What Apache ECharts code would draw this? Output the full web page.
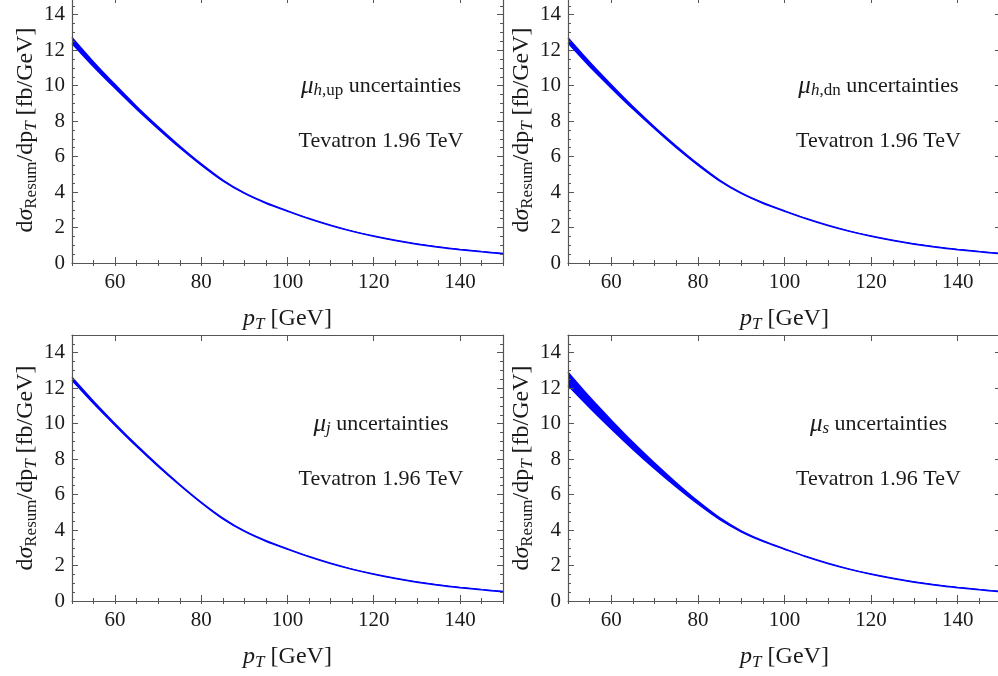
<!DOCTYPE html>
<html>
<head>
<meta charset="utf-8">
<script src="https://cdn.jsdelivr.net/npm/echarts@6/dist/echarts.min.js"></script>
<style>
  html, body { margin: 0; padding: 0; background: #ffffff; }
  #chart { width: 998px; height: 676px; }
</style>
</head>
<body>
<div id="chart"></div>
<script>
// transverse momentum grid [GeV]
const pT = [50, 55, 60, 65, 70, 75, 80, 85, 90, 95, 100, 105, 110, 115, 120, 125, 130, 135, 140, 145, 150];

// labelled ticks
const xMajorTicks = [60, 80, 100, 120, 140];

// resummed cross section bands dσ/dpT [fb/GeV], lower and upper edges
const hUpLower = [12.38, 11.07, 9.85, 8.67, 7.56, 6.50, 5.52, 4.63, 3.92, 3.37, 2.92, 2.49, 2.11, 1.78, 1.50, 1.26, 1.06, 0.89, 0.75, 0.63, 0.52];
const hUpUpper = [12.72, 11.34, 10.06, 8.83, 7.68, 6.60, 5.59, 4.68, 3.95, 3.40, 2.94, 2.51, 2.13, 1.80, 1.52, 1.28, 1.08, 0.91, 0.77, 0.65, 0.54];

const hDnLower = [12.40, 11.08, 9.86, 8.68, 7.57, 6.50, 5.52, 4.63, 3.92, 3.37, 2.92, 2.49, 2.11, 1.78, 1.50, 1.26, 1.06, 0.89, 0.75, 0.63, 0.52];
const hDnUpper = [12.70, 11.33, 10.05, 8.82, 7.67, 6.60, 5.59, 4.68, 3.95, 3.40, 2.94, 2.51, 2.13, 1.80, 1.52, 1.28, 1.08, 0.91, 0.77, 0.65, 0.54];

const jLower = [12.44, 11.13, 9.90, 8.71, 7.59, 6.53, 5.53, 4.63, 3.92, 3.37, 2.92, 2.49, 2.11, 1.78, 1.50, 1.26, 1.06, 0.89, 0.75, 0.63, 0.52];
const jUpper = [12.62, 11.27, 10.00, 8.79, 7.65, 6.57, 5.57, 4.68, 3.95, 3.40, 2.94, 2.51, 2.13, 1.80, 1.52, 1.28, 1.08, 0.91, 0.77, 0.65, 0.54];

const sLower = [12.15, 10.90, 9.70, 8.55, 7.46, 6.43, 5.47, 4.60, 3.90, 3.36, 2.92, 2.49, 2.11, 1.78, 1.50, 1.26, 1.06, 0.89, 0.75, 0.63, 0.52];
const sUpper = [12.90, 11.50, 10.20, 8.95, 7.78, 6.67, 5.63, 4.70, 3.96, 3.40, 2.94, 2.51, 2.13, 1.80, 1.52, 1.28, 1.08, 0.91, 0.77, 0.65, 0.54];

// panel texts
const scaleLabels = [
  '{mu|μ}{si|h}{sub|,up}{n| uncertainties}',
  '{mu|μ}{si|h}{sub|,dn}{n| uncertainties}',
  '{mu|μ}{si|j}{n| uncertainties}',
  '{mu|μ}{si|s}{n| uncertainties}'
];
const machineLabel = 'Tevatron 1.96 TeV';
const xTitle = '{i|p}{si|T}{n| [GeV]}';
const yTitle = '{n|d}{i|σ}{sub|Resum}{n|/dp}{si|T}{n| [fb/GeV]}';

const FONT = 'Liberation Serif';
const BLUE = '#0000ff';
const FRAME = '#555555';
const TEXT = '#1a1a1a';

const panels = [
  { lower: hUpLower, upper: hUpUpper, rect: { left: 72,  top: -3,  width: 431, height: 266 } },
  { lower: hDnLower, upper: hDnUpper, rect: { left: 568, top: -3,  width: 433, height: 266 } },
  { lower: jLower,   upper: jUpper,   rect: { left: 72,  top: 335, width: 431, height: 266 } },
  { lower: sLower,   upper: sUpper,   rect: { left: 568, top: 335, width: 433, height: 266 } }
];

function richSet(size, subSize, shift, muSize) {
  return {
    n:   { fontFamily: FONT, fontSize: size, color: TEXT },
    i:   { fontFamily: FONT, fontSize: size, color: TEXT, fontStyle: 'italic' },
    si:  { fontFamily: FONT, fontSize: subSize, color: TEXT, fontStyle: 'italic', padding: [shift, 0, 0, 0] },
    sub: { fontFamily: FONT, fontSize: subSize, color: TEXT, padding: [shift, 0, 0, 0] },
    mu:  { fontFamily: FONT, fontSize: muSize, color: TEXT, fontStyle: 'italic' }
  };
}
const titleRich = richSet(24, 17, 11, 24);
const noteRich = richSet(22, 17, 10, 25);

const grids = [], xAxes = [], yAxes = [], series = [], graphics = [];

panels.forEach((p, k) => {
  const gMain = grids.length;
  grids.push(Object.assign({ containLabel: false, outerBoundsMode: 'none' }, p.rect));
  const gMinor = grids.length;
  grids.push(Object.assign({ containLabel: false, outerBoundsMode: 'none' }, p.rect));

  // major ticks, labels and frame
  const xMain = xAxes.length;
  xAxes.push({
    gridIndex: gMain, type: 'value', position: 'bottom', min: 50, max: 150, z: 5,
    axisLine: { show: true, onZero: false, lineStyle: { color: FRAME, width: 1.2 } },
    axisTick: { show: true, inside: true, length: 6, customValues: xMajorTicks, lineStyle: { color: FRAME, width: 1 } },
    axisLabel: { show: true, customValues: xMajorTicks, fontFamily: FONT, fontSize: 21, color: TEXT, margin: 9 },
    splitLine: { show: false },
    name: xTitle, nameLocation: 'middle', nameGap: 42,
    nameTextStyle: { rich: titleRich }
  });
  xAxes.push({
    gridIndex: gMain, type: 'value', position: 'top', min: 50, max: 150, z: 5,
    axisLine: { show: true, onZero: false, lineStyle: { color: FRAME, width: 1.2 } },
    axisTick: { show: true, inside: true, length: 6, customValues: xMajorTicks, lineStyle: { color: FRAME, width: 1 } },
    axisLabel: { show: false }, splitLine: { show: false }
  });
  const yMain = yAxes.length;
  yAxes.push({
    gridIndex: gMain, type: 'value', position: 'left', min: 0, max: 15, interval: 2, z: 5,
    axisLine: { show: true, onZero: false, lineStyle: { color: FRAME, width: 1.2 } },
    axisTick: { show: true, inside: true, length: 6, lineStyle: { color: FRAME, width: 1 } },
    axisLabel: { show: true, showMaxLabel: false, fontFamily: FONT, fontSize: 21, color: TEXT, margin: 7 },
    splitLine: { show: false },
    name: yTitle, nameLocation: 'middle', nameRotate: 90, nameGap: 30,
    nameTextStyle: { rich: titleRich }
  });
  yAxes.push({
    gridIndex: gMain, type: 'value', position: 'right', min: 0, max: 15, interval: 2, z: 5,
    axisLine: { show: true, onZero: false, lineStyle: { color: FRAME, width: 1.2 } },
    axisTick: { show: true, inside: true, length: 6, lineStyle: { color: FRAME, width: 1 } },
    axisLabel: { show: false }, splitLine: { show: false }
  });

  // minor ticks on all four sides
  ['bottom', 'top'].forEach(pos => xAxes.push({
    gridIndex: gMinor, type: 'value', position: pos, min: 50, max: 150, interval: 5, z: 5,
    axisLine: { show: false },
    axisTick: { show: true, inside: true, length: 3, lineStyle: { color: FRAME, width: 1 } },
    axisLabel: { show: false }, splitLine: { show: false }
  }));
  ['left', 'right'].forEach(pos => yAxes.push({
    gridIndex: gMinor, type: 'value', position: pos, min: 0, max: 15, interval: 0.5, z: 5,
    axisLine: { show: false },
    axisTick: { show: true, inside: true, length: 3, lineStyle: { color: FRAME, width: 1 } },
    axisLabel: { show: false }, splitLine: { show: false }
  }));

  // uncertainty band: upper edge filled in blue, lower edge clears below in white
  series.push({
    type: 'line', xAxisIndex: xMain, yAxisIndex: yMain,
    data: pT.map((x, i) => [x, p.upper[i]]),
    smooth: 0.3, symbol: 'none', silent: true,
    lineStyle: { color: BLUE, width: 1.4 },
    areaStyle: { color: BLUE, opacity: 1 }, z: 2
  });
  series.push({
    type: 'line', xAxisIndex: xMain, yAxisIndex: yMain,
    data: pT.map((x, i) => [x, p.lower[i]]),
    smooth: 0.3, symbol: 'none', silent: true,
    lineStyle: { color: BLUE, width: 1.4 },
    areaStyle: { color: '#ffffff', opacity: 1 }, z: 3
  });

  // in-panel annotations
  const cx = p.rect.left + 0.717 * p.rect.width;
  const top = p.rect.top;
  graphics.push({
    type: 'text', x: cx, y: top + 89,
    style: { text: scaleLabels[k], rich: noteRich, align: 'center', verticalAlign: 'middle',
             fontFamily: FONT, fontSize: 22, fill: TEXT }
  });
  graphics.push({
    type: 'text', x: cx, y: top + 144,
    style: { text: machineLabel, align: 'center', verticalAlign: 'middle',
             fontFamily: FONT, fontSize: 22, fill: TEXT }
  });
});

const chart = echarts.init(document.getElementById('chart'), null, { renderer: 'canvas' });
chart.setOption({
  backgroundColor: '#ffffff',
  animation: false,
  grid: grids,
  xAxis: xAxes,
  yAxis: yAxes,
  series: series,
  graphic: graphics
});
</script>
</body>
</html>
